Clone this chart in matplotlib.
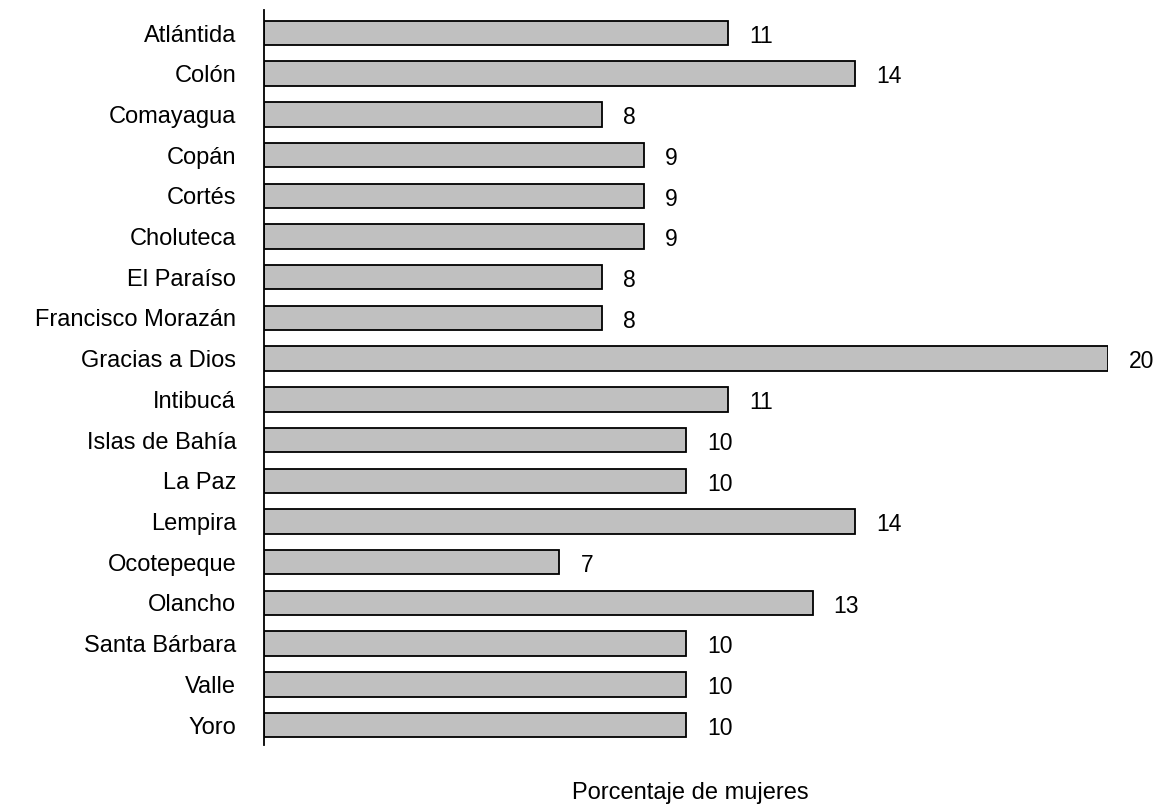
import matplotlib
matplotlib.use("Agg")
import matplotlib.pyplot as plt

departamentos = ["Atlántida", "Colón", "Comayagua", "Copán", "Cortés", "Choluteca",
                 "El Paraíso", "Francisco Morazán", "Gracias a Dios", "Intibucá",
                 "Islas de Bahía", "La Paz", "Lempira", "Ocotepeque", "Olancho",
                 "Santa Bárbara", "Valle", "Yoro"]
porcentaje = [11, 14, 8, 9, 9, 9, 8, 8, 20, 11, 10, 10, 14, 7, 13, 10, 10, 10]

plt.rcParams['font.family'] = ['Liberation Sans', 'DejaVu Sans']

fig = plt.figure(figsize=(11.6, 8.07), dpi=100)
ax = fig.add_axes([264 / 1160, 1 - 745 / 807, (1108 - 264) / 1160, 735 / 807])

pos = list(range(len(departamentos)))
bars = ax.barh(pos, porcentaje, height=0.6, color="#C0C0C0", edgecolor="black", linewidth=1.3)

for b, v in zip(bars, porcentaje):   # cifras a la derecha de cada barra
    ax.text(v + 0.5, b.get_y() + b.get_height() / 2 + 0.08, str(v),
            ha="left", va="center", fontsize=16.5, clip_on=False)

ax.set_xlim(0, 20)
ax.set_ylim(17.49, -0.565)
ax.set_yticks(pos)
ax.set_yticklabels(departamentos, fontsize=17)
ax.tick_params(axis="y", length=0, pad=20)
ax.set_xticks([])
for s in ["top", "right", "bottom"]:
    ax.spines[s].set_visible(False)
ax.spines["left"].set_linewidth(1.3)

fig.text(690 / 1160, 1 - 793 / 807, "Porcentaje de mujeres", ha="center", va="center", fontsize=17)

fig.savefig("out.png", dpi=100)
